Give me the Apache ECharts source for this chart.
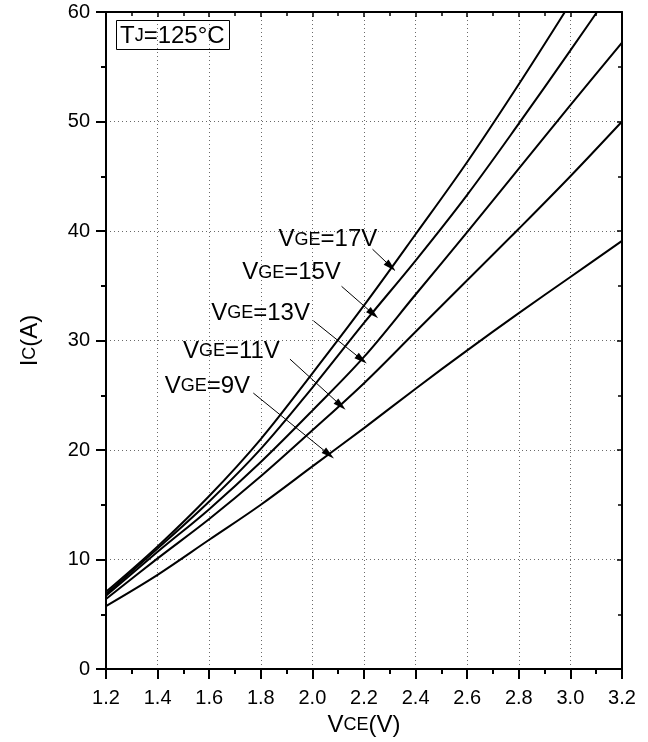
<!DOCTYPE html>
<html>
<head>
<meta charset="utf-8">
<script src="https://cdn.jsdelivr.net/npm/echarts@6/dist/echarts.min.js"></script>
<style>
  html, body { margin: 0; padding: 0; background: #fff; }
  #chart { width: 648px; height: 742px; }
</style>
</head>
<body>
<div id="chart"></div>
<script>
// VCE(V) sample points
const vce = [1.2, 1.4, 1.6, 1.8, 2.0, 2.2, 2.4, 2.6, 2.8, 3.0, 3.2]
// IC(A) for each gate voltage
const ic17 = [7.05, 11.2, 15.8, 21.0, 27.0, 33.2, 39.7, 46.3, 53.4, 60.8, 68.3]
const ic15 = [6.85, 11.0, 15.3, 20.1, 25.7, 31.6, 37.3, 43.3, 49.8, 56.5, 63.3]
const ic13 = [6.7, 10.7, 14.6, 18.9, 23.6, 28.5, 34.2, 39.9, 45.7, 51.5, 57.2]
const ic11 = [6.4, 10.1, 13.7, 17.6, 21.8, 26.1, 30.8, 35.5, 40.2, 45.0, 50.0]
const ic9 = [5.75, 8.6, 11.8, 15.0, 18.5, 22.0, 25.6, 29.1, 32.5, 35.8, 39.1]
const gateVolts = ['17V', '15V', '13V', '11V', '9V']

const xTicks = { min: 1.2, max: 3.2, interval: 0.2 }
const yTicks = { min: 0, max: 60, interval: 10 }

// annotation placement (data coords): label centre, arrow start, arrow tip
const labelAt = [[2.06, 39.2], [1.919, 36.2], [1.799, 32.5], [1.686, 29.0], [1.593, 25.8]]
const arrowFrom = [[2.233, 38.34], [2.113, 34.95], [2.004, 31.8], [1.913, 28.3], [1.771, 25.2]]
const arrowTo = [[2.304, 36.75], [2.236, 32.42], [2.191, 28.26], [2.110, 24.07], [2.064, 19.6]]

const FONT = 'Liberation Sans, Arial, sans-serif'
const chart = echarts.init(document.getElementById('chart'))

const richSub = {
  v: { fontSize: 24, color: '#000', fontFamily: FONT, fontWeight: 'normal' },
  s: { fontSize: 18, color: '#000', fontFamily: FONT, fontWeight: 'normal' }
}

function axisBase(extra) {
  return Object.assign({
    type: 'value',
    axisLine: { show: true, onZero: false, lineStyle: { color: '#000', width: 2 } },
    axisTick: { show: true, inside: false, length: 10, lineStyle: { color: '#000', width: 2 } },
    minorTick: { show: true, splitNumber: 2, length: 5, lineStyle: { color: '#000', width: 2 } },
    axisLabel: { show: true, color: '#000', fontSize: 20, fontFamily: FONT, showMinLabel: true, showMaxLabel: true, hideOverlap: false },
    splitLine: { show: true, lineStyle: { color: '#6a6a6a', width: 1, type: [1, 3] } },
    minorSplitLine: { show: false }
  }, extra)
}

function mirrorAxis(ticks, pos) {
  return axisBase(Object.assign({}, ticks, {
    position: pos,
    axisTick: { show: true, inside: true, length: 5, lineStyle: { color: '#000', width: 1.5 } },
    minorTick: { show: true, splitNumber: 2, length: 4, lineStyle: { color: '#000', width: 1.5 } },
    axisLabel: { show: false },
    splitLine: { show: false }
  }))
}

const ics = [ic17, ic15, ic13, ic11, ic9]
const series = ics.map((ic, k) => ({
  name: 'VGE=' + gateVolts[k],
  type: 'line',
  data: vce.map((v, i) => [v, ic[i]]),
  smooth: 0.35,
  symbol: 'none',
  clip: true,
  lineStyle: { color: '#000', width: 2 },
  markLine: {
    silent: true,
    symbol: ['none', 'triangle'],
    symbolSize: [7, 13],
    label: { show: false },
    lineStyle: { color: '#000', width: 1, type: 'solid' },
    data: [[{ coord: arrowFrom[k] }, { coord: arrowTo[k] }]]
  },
  markPoint: {
    silent: true,
    symbol: 'circle',
    symbolSize: 0,
    itemStyle: { color: 'transparent' },
    label: {
      show: true,
      position: 'inside',
      formatter: '{v|V}{s|GE}{v|=' + gateVolts[k] + '}',
      rich: richSub
    },
    data: [{ coord: labelAt[k] }]
  }
}))

chart.setOption({
  animation: false,
  backgroundColor: '#fff',
  title: {
    text: '{v|T}{s|J}{v|=125°C}',
    left: 116,
    top: 20,
    padding: [4, 5, 2, 4],
    borderColor: '#000',
    borderWidth: 1,
    textStyle: { fontWeight: 'normal', rich: richSub }
  },
  grid: { left: 106, right: 26, top: 12, bottom: 71, containLabel: false },
  xAxis: [
    axisBase(Object.assign({}, xTicks, {
      position: 'bottom',
      name: '{v|V}{s|CE}{v|(V)}',
      nameLocation: 'middle',
      nameGap: 44,
      nameTextStyle: { rich: richSub },
      axisLabel: { show: true, color: '#000', fontSize: 20, fontFamily: FONT, margin: 19, showMinLabel: true, showMaxLabel: true, hideOverlap: false,
        formatter: v => v.toFixed(1) }
    })),
    mirrorAxis(xTicks, 'top')
  ],
  yAxis: [
    axisBase(Object.assign({}, yTicks, {
      position: 'left',
      name: '{v|I}{s|C}{v|(A)}',
      nameLocation: 'middle',
      nameGap: 64,
      nameRotate: 90,
      nameTextStyle: { rich: richSub },
      axisLabel: { show: true, color: '#000', fontSize: 20, fontFamily: FONT, margin: 16, showMinLabel: true, showMaxLabel: true, hideOverlap: false }
    })),
    mirrorAxis(yTicks, 'right')
  ],
  series: series
})
</script>
</body>
</html>
